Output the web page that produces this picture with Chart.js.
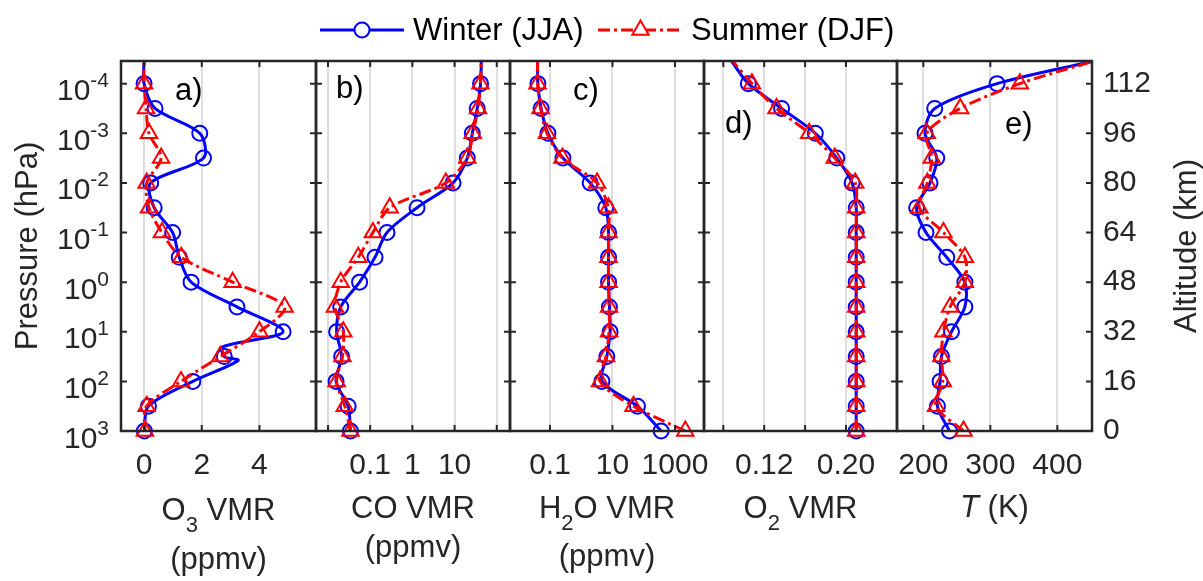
<!DOCTYPE html>
<html>
<head>
<meta charset="utf-8">
<script src="https://cdn.jsdelivr.net/npm/chart.js@4.4.1/dist/chart.umd.min.js"></script>
<style>
  html, body { margin: 0; padding: 0; background: #fff; }
  #wrap { position: relative; width: 1203px; height: 581px; }
  #wrap canvas { position: absolute; left: 0; top: 0; }
</style>
</head>
<body>
<div id="wrap"></div>
<script>
// pressure (hPa) of the marked levels: 0 km up to 112 km in 8 km steps
const pressure = [1000, 316.2, 100, 31.62, 10, 3.162, 1, 0.3162, 0.1, 0.03162, 0.01, 0.003162, 0.001, 0.0003162, 0.0001];
const pTop = 3.5e-5;
const pressureTicks = [1e-4, 1e-3, 1e-2, 1e-1, 1, 10, 100, 1000];
const pressureExp = ['-4', '-3', '-2', '-1', '0', '1', '2', '3'];
const altTicks = [0, 16, 32, 48, 64, 80, 96, 112];

// a) ozone, ppmv
const o3Winter = [0.01, 0.15, 1.69, 2.78, 4.82, 3.22, 1.63, 1.22, 0.99, 0.35, 0.23, 2.06, 1.93, 0.38, 0.0];
const o3Summer = [0.03, 0.09, 1.28, 2.64, 4.0, 4.87, 3.07, 1.29, 0.62, 0.17, 0.09, 0.59, 0.17, 0.07, 0.0];
const o3Top = [0.0, 0.0];
// unmarked points where the winter curve kinks between 16 and 32 km
const o3WinterKinkP = [38, 20];
const o3WinterKink = [3.26, 2.74];
const o3Ticks = [0, 2, 4];
const o3TickLabels = ['0', '2', '4'];

// b) carbon monoxide, ppmv
const coWinter = [0.034, 0.030, 0.0155, 0.021, 0.016, 0.020, 0.056, 0.13, 0.25, 1.29, 9.2, 20, 26.3, 34.4, 41.3];
const coSummer = [0.034, 0.025, 0.016, 0.022, 0.023, 0.0146, 0.020, 0.052, 0.116, 0.29, 6.2, 20, 27, 36, 41];
const coTop = [43, 43];
const coTicks = [0.01, 0.1, 1, 10, 100];
const coTickLabels = ['', '0.1', '1', '10', ''];

// c) water vapour, ppmv
const h2oWinter = [361, 63, 4.6, 6.6, 8.4, 8.0, 7.5, 7.5, 7.5, 6.1, 1.93, 0.26, 0.086, 0.052, 0.041];
const h2oSummer = [2140, 47, 4.0, 6.2, 7.8, 7.8, 7.5, 7.5, 7.5, 7.4, 3.2, 0.25, 0.08, 0.05, 0.04];
const h2oTop = [0.04, 0.04];
const h2oTicks = [0.1, 10, 1000];
const h2oTickLabels = ['0.1', '10', '1000'];

// d) oxygen
const o2Winter = [0.21, 0.21, 0.21, 0.21, 0.21, 0.21, 0.21, 0.21, 0.21, 0.21, 0.206, 0.191, 0.170, 0.137, 0.1045];
const o2Summer = [0.21, 0.21, 0.21, 0.21, 0.21, 0.21, 0.21, 0.21, 0.21, 0.21, 0.209, 0.189, 0.164, 0.132, 0.108];
const o2Top = [0.088, 0.089];
const o2Ticks = [0.08, 0.12, 0.16, 0.20];
const o2TickLabels = ['', '0.12', '', '0.20'];

// e) temperature, K
const tWinter = [239, 221, 225, 227, 242, 262, 262, 235, 204, 190, 210, 220, 202.5, 217, 310];
const tSummer = [260, 219, 229, 227, 230, 240, 262, 262, 230, 194, 206, 212.5, 205, 255, 344];
const tTop = [455, 455];
const tTicks = [200, 300, 400];
const tTickLabels = ['200', '300', '400'];

const seriesNames = ['Winter (JJA)', 'Summer (DJF)'];

const W = 1203, H = 581;
const AREA_TOP = 61, AREA_BOTTOM = 431;
const INK = '#262626', GRID = '#dedede', BLUE = '#0000ff', RED = '#ff0000';
const DASH_DOT = [12, 4, 3, 4];
const FAMILY = '"Liberation Sans", Arial, sans-serif';
Chart.defaults.font.family = FAMILY;
Chart.defaults.color = INK;

function font(size, italic) {
    return (italic ? 'italic ' : '') + size + 'px ' + FAMILY;
}

// marked levels + optional unmarked points + the point at the top edge
function profile(values, top, extraP, extraV) {
    const pts = values.map((v, i) => ({ x: v, y: pressure[i], m: true }));
    (extraP || []).forEach((p, i) => pts.push({ x: extraV[i], y: p, m: false }));
    pts.push({ x: top, y: pTop, m: false });
    pts.sort((a, b) => b.y - a.y);
    return pts;
}

function drawRich(ctx, parts, cx, base) {
    let total = 0;
    const runs = parts.map(p => {
        const f = font(p.sub ? 22 : 31, p.it);
        ctx.font = f;
        const w = ctx.measureText(p.t).width;
        total += w;
        return { t: p.t, f: f, w: w, dy: p.sub ? 12 : 0 };
    });
    let x = cx - total / 2;
    ctx.textAlign = 'left';
    ctx.textBaseline = 'alphabetic';
    runs.forEach(r => { ctx.font = r.f; ctx.fillText(r.t, x, base + r.dy); x += r.w; });
}

const panels = [
    { id: 'o3', area: [121, 316], type: 'linear', min: -0.8, max: 5.96,
      winter: profile(o3Winter, o3Top[0], o3WinterKinkP, o3WinterKink), summer: profile(o3Summer, o3Top[1]),
      ticks: o3Ticks, labels: o3TickLabels, letter: ['a)', 175, 100],
      title: [{ parts: [{ t: 'O' }, { t: '3', sub: true }, { t: ' VMR' }], y: 520 }, { parts: [{ t: '(ppmv)' }], y: 569 }] },
    { id: 'co', area: [316, 510], type: 'logarithmic', min: 5.19e-3, max: 206,
      winter: profile(coWinter, coTop[0]), summer: profile(coSummer, coTop[1]),
      ticks: coTicks, labels: coTickLabels, letter: ['b)', 336, 98],
      title: [{ parts: [{ t: 'CO VMR' }], y: 518 }, { parts: [{ t: '(ppmv)' }], y: 557 }] },
    { id: 'h2o', area: [510, 704], type: 'logarithmic', min: 5.25e-3, max: 8500,
      winter: profile(h2oWinter, h2oTop[0]), summer: profile(h2oSummer, h2oTop[1]),
      ticks: h2oTicks, labels: h2oTickLabels, letter: ['c)', 573, 100],
      title: [{ parts: [{ t: 'H' }, { t: '2', sub: true }, { t: 'O VMR' }], y: 518 }, { parts: [{ t: '(ppmv)' }], y: 566 }] },
    { id: 'o2', area: [704, 897], type: 'linear', min: 0.0611, max: 0.2499,
      winter: profile(o2Winter, o2Top[0]), summer: profile(o2Summer, o2Top[1]),
      ticks: o2Ticks, labels: o2TickLabels, letter: ['d)', 725, 133],
      title: [{ parts: [{ t: 'O' }, { t: '2', sub: true }, { t: ' VMR' }], y: 518 }] },
    { id: 't', area: [897, 1092], type: 'linear', min: 160.7, max: 451.7,
      winter: profile(tWinter, tTop[0]), summer: profile(tSummer, tTop[1]),
      ticks: tTicks, labels: tTickLabels, letter: ['e)', 1005, 134],
      title: [{ parts: [{ t: 'T', it: true }, { t: ' (K)' }], y: 517 }] }
];

function makeDecor(cfg) {
    return {
        id: 'decor',
        afterDraw(chart) {
            const ctx = chart.ctx, a = chart.chartArea;
            const xs = chart.scales.x, ys = chart.scales.y;
            ctx.save();
            ctx.strokeStyle = INK;
            ctx.lineWidth = 2;
            ctx.beginPath();
            cfg.ticks.forEach(v => {
                const x = xs.getPixelForValue(v);
                ctx.moveTo(x, a.bottom); ctx.lineTo(x, a.bottom - 6);
                ctx.moveTo(x, a.top); ctx.lineTo(x, a.top + 6);
            });
            pressureTicks.forEach(p => {
                const y = ys.getPixelForValue(p);
                ctx.moveTo(a.left, y); ctx.lineTo(a.left + 6, y);
                ctx.moveTo(a.right, y); ctx.lineTo(a.right - 6, y);
            });
            ctx.stroke();
            ctx.lineWidth = 2.5;
            ctx.strokeRect(a.left, a.top, a.right - a.left, a.bottom - a.top);
            ctx.fillStyle = '#000';
            ctx.font = font(31);
            ctx.textAlign = 'left';
            ctx.textBaseline = 'alphabetic';
            ctx.fillText(cfg.letter[0], cfg.letter[1], cfg.letter[2]);
            ctx.fillStyle = INK;
            const cx = (a.left + a.right) / 2;
            cfg.title.forEach(line => drawRich(ctx, line.parts, cx, line.y));
            ctx.restore();
        }
    };
}

const pressureLabels = {
    id: 'pressureLabels',
    afterDraw(chart) {
        const ctx = chart.ctx, ys = chart.scales.y;
        ctx.save();
        ctx.fillStyle = INK;
        ctx.textAlign = 'right';
        ctx.textBaseline = 'alphabetic';
        pressureTicks.forEach((p, i) => {
            const y = ys.getPixelForValue(p);
            ctx.font = font(21);
            const ew = ctx.measureText(pressureExp[i]).width;
            ctx.fillText(pressureExp[i], 109, y + 3.5);
            ctx.font = font(30);
            ctx.fillText('10', 109 - ew, y + 16.5);
        });
        ctx.restore();
    }
};

const topLegend = {
    id: 'topLegend',
    afterDraw(chart) {
        const ctx = chart.ctx;
        const items = [
            { name: seriesNames[0], color: BLUE, dash: [], style: 'circle', r: 7.5, x0: 320, x1: 404, tx: 413 },
            { name: seriesNames[1], color: RED, dash: DASH_DOT, style: 'triangle', r: 9.5, x0: 598, x1: 683, tx: 691 }
        ];
        ctx.save();
        items.forEach(it => {
            ctx.strokeStyle = it.color;
            ctx.lineWidth = 3;
            ctx.setLineDash(it.dash);
            ctx.beginPath();
            ctx.moveTo(it.x0, 30); ctx.lineTo(it.x1, 30);
            ctx.stroke();
            ctx.setLineDash([]);
            ctx.fillStyle = '#fff';
            ctx.lineWidth = 2;
            Chart.helpers.drawPoint(ctx, { pointStyle: it.style, rotation: 0, radius: it.r, borderWidth: 2 }, (it.x0 + it.x1) / 2, 30);
            ctx.fillStyle = '#000';
            ctx.font = font(31);
            ctx.textAlign = 'left';
            ctx.textBaseline = 'alphabetic';
            ctx.fillText(it.name, it.tx, 40);
        });
        ctx.restore();
    }
};

const altTitle = {
    id: 'altTitle',
    afterDraw(chart) {
        const ctx = chart.ctx;
        ctx.save();
        ctx.translate(1187, (AREA_TOP + AREA_BOTTOM) / 2);
        ctx.rotate(-Math.PI / 2);
        ctx.fillStyle = INK;
        ctx.font = font(31);
        ctx.textAlign = 'center';
        ctx.textBaseline = 'middle';
        ctx.fillText('Altitude (km)', 0, 0);
        ctx.restore();
    }
};

const wrap = document.getElementById('wrap');

panels.forEach((cfg, k) => {
    const canvas = document.createElement('canvas');
    canvas.id = cfg.id;
    canvas.width = W;
    canvas.height = H;
    wrap.appendChild(canvas);

    const first = k === 0, last = k === panels.length - 1;
    const clip = { left: 0, right: 0, top: 0, bottom: 12 };

    const scales = {
        x: {
            type: cfg.type, min: cfg.min, max: cfg.max, position: 'bottom',
            afterBuildTicks: s => { s.ticks = cfg.ticks.map(v => ({ value: v })); },
            afterFit: s => { s.height = H - AREA_BOTTOM; },
            ticks: {
                autoSkip: false, maxRotation: 0, minRotation: 0, padding: 17,
                color: INK, font: { size: 30 },
                callback: (v, i) => cfg.labels[i]
            },
            grid: { color: GRID, lineWidth: 2, drawTicks: false },
            border: { display: false }
        },
        y: {
            type: 'logarithmic', reverse: true, min: pTop, max: 1000, position: 'left',
            display: first,
            afterFit: s => { if (first) s.width = cfg.area[0]; },
            ticks: { display: false },
            grid: { display: false, drawTicks: false },
            border: { display: false },
            title: {
                display: first, text: 'Pressure (hPa)', color: INK,
                font: { size: 31 }, padding: { top: 10, bottom: 0 }
            }
        }
    };
    if (last) {
        scales.alt = {
            type: 'linear', position: 'right', min: 0, max: 16 * Math.log10(1000 / pTop),
            afterBuildTicks: s => { s.ticks = altTicks.map(v => ({ value: v })); },
            afterFit: s => { s.width = W - cfg.area[1]; },
            ticks: { color: INK, font: { size: 30 }, padding: 11, callback: v => String(v) },
            grid: { display: false, drawTicks: false },
            border: { display: false }
        };
    }

    const plugins = [makeDecor(cfg)];
    if (first) plugins.push(pressureLabels, topLegend);
    if (last) plugins.push(altTitle);

    new Chart(canvas, {
        type: 'line',
        data: {
            datasets: [
                {
                    label: seriesNames[1], data: cfg.summer, order: 0,
                    borderColor: RED, borderWidth: 3, borderDash: DASH_DOT,
                    pointStyle: 'triangle', pointBorderColor: RED, pointBackgroundColor: 'rgba(0,0,0,0)',
                    pointBorderWidth: 2, pointRadius: c => (c.raw && c.raw.m ? 9.5 : 0),
                    tension: 0.3, clip: clip
                },
                {
                    label: seriesNames[0], data: cfg.winter, order: 1,
                    borderColor: BLUE, borderWidth: 3,
                    pointStyle: 'circle', pointBorderColor: BLUE, pointBackgroundColor: 'rgba(0,0,0,0)',
                    pointBorderWidth: 2, pointRadius: c => (c.raw && c.raw.m ? 7.5 : 0),
                    tension: 0.3, clip: clip
                }
            ]
        },
        options: {
            responsive: false,
            animation: false,
            devicePixelRatio: 1,
            events: [],
            layout: {
                padding: {
                    left: first ? 0 : cfg.area[0],
                    right: last ? 0 : W - cfg.area[1],
                    top: AREA_TOP, bottom: 0
                }
            },
            scales: scales,
            plugins: { legend: { display: false }, tooltip: { enabled: false } }
        },
        plugins: plugins
    });
});
</script>
</body>
</html>
